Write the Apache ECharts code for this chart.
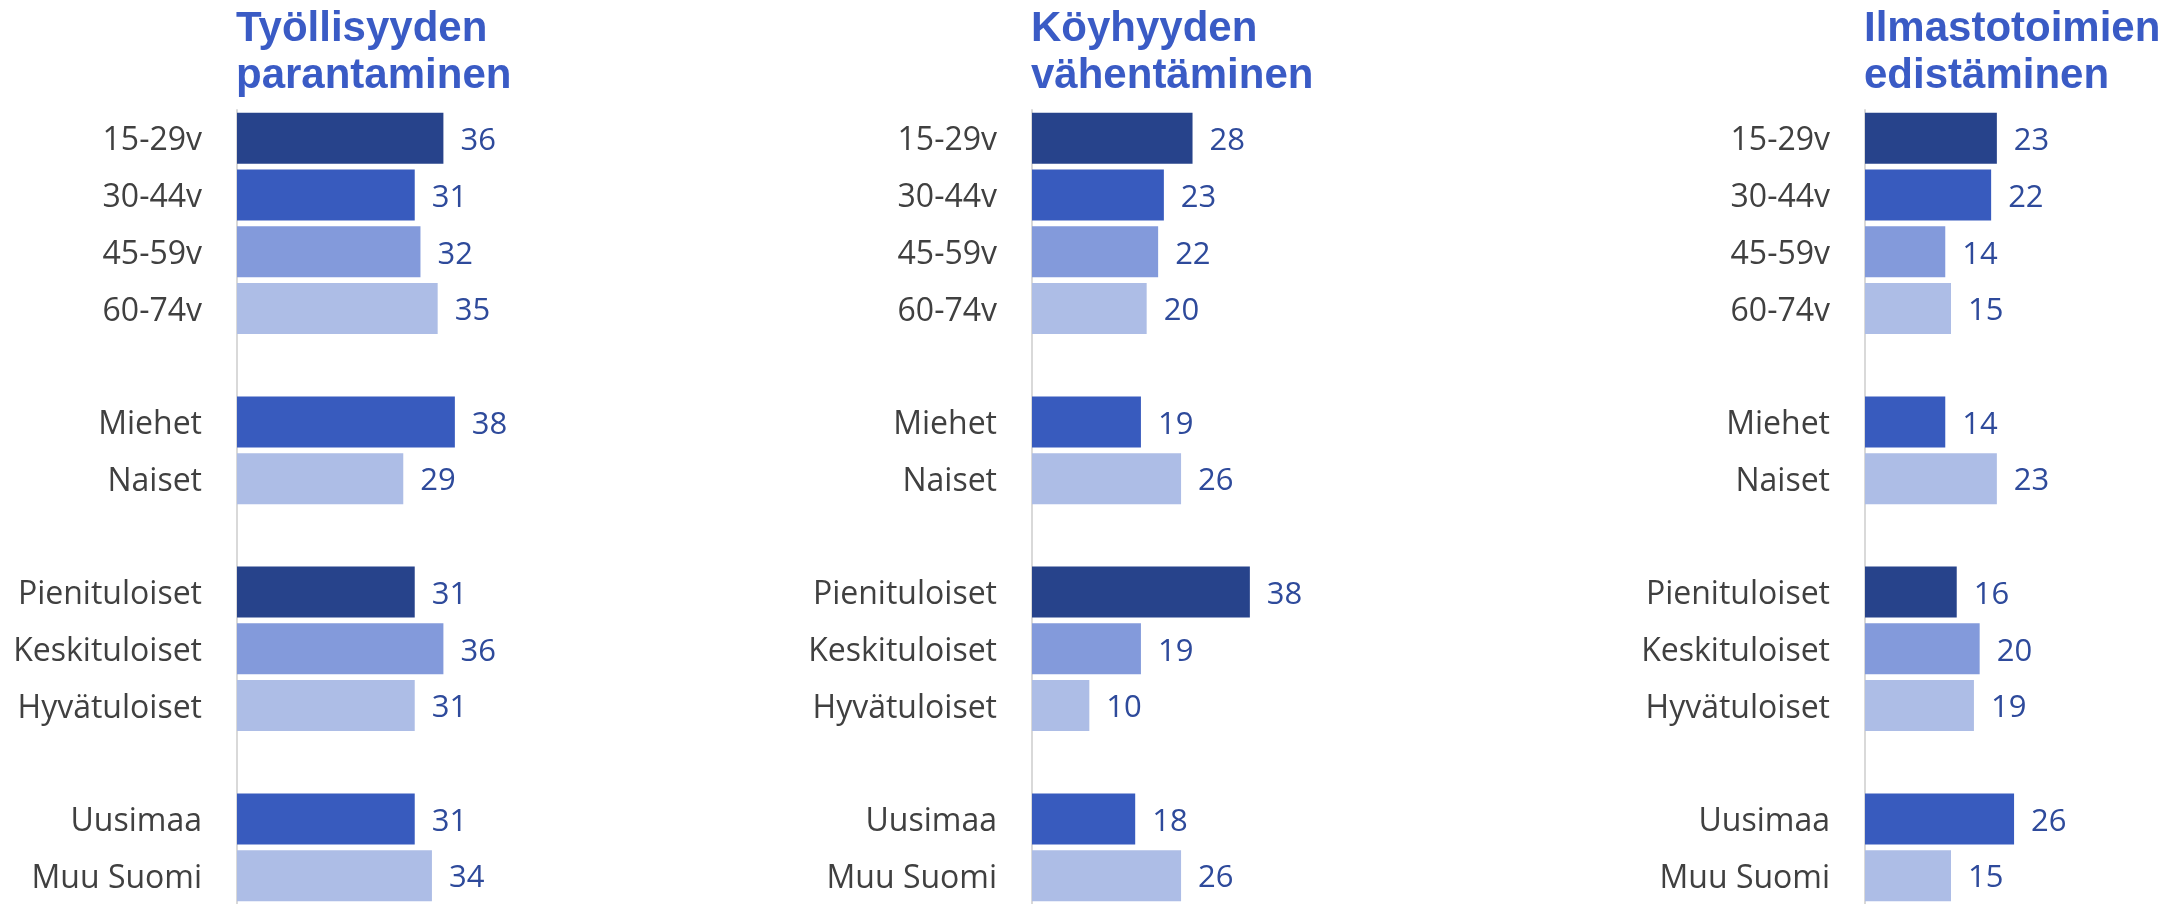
<!DOCTYPE html>
<html>
<head>
<meta charset="utf-8">
<script src="https://cdn.jsdelivr.net/npm/echarts@6/dist/echarts.min.js"></script>
<style>
  html, body { margin: 0; padding: 0; background: #fff; }
  #chart { width: 2179px; height: 904px; }
</style>
</head>
<body>
<div id="chart"></div>
<script>
// empty strings are the gaps between groups
const categories = ['15-29v', '30-44v', '45-59v', '60-74v', '', 'Miehet', 'Naiset', '',
  'Pienituloiset', 'Keskituloiset', 'Hyvätuloiset', '', 'Uusimaa', 'Muu Suomi'];

const titles = ['Työllisyyden\nparantaminen', 'Köyhyyden\nvähentäminen', 'Ilmastotoimien\nedistäminen'];

const tyollisyys = [36, 31, 32, 35, null, 38, 29, null, 31, 36, 31, null, 31, 34];
const koyhyys = [28, 23, 22, 20, null, 19, 26, null, 38, 19, 10, null, 18, 26];
const ilmasto = [23, 22, 14, 15, null, 14, 23, null, 16, 20, 19, null, 26, 15];

// shade used for each row (0 = darkest)
const shadeOfRow = [0, 1, 2, 3, 0, 1, 3, 0, 0, 2, 3, 0, 1, 3];
const shades = ['#27438b', '#385bbe', '#839adb', '#adbde6'];

const panelLeft = [237, 1032, 1865];
const allValues = [tyollisyys, koyhyys, ilmasto];

const chart = echarts.init(document.getElementById('chart'));

const option = {
  animation: false,
  title: titles.map((t, i) => ({
    text: t,
    left: panelLeft[i] - 6,
    top: 1,
    textStyle: {
      fontFamily: 'Liberation Sans',
      fontWeight: 'bold',
      fontSize: 42,
      lineHeight: 47,
      color: '#3a5bc5',
    },
  })),
  grid: panelLeft.map((l) => ({
    left: l,
    width: 258,
    top: 110,
    bottom: -4.5,
  })),
  xAxis: panelLeft.map((l, i) => ({
    type: 'value',
    gridIndex: i,
    min: 0,
    max: 45,
    show: false,
  })),
  yAxis: panelLeft.map((l, i) => ({
    type: 'category',
    gridIndex: i,
    inverse: true,
    data: categories,
    axisTick: { show: false },
    axisLine: { lineStyle: { color: '#d9d9d9', width: 2 } },
    axisLabel: {
      margin: 35,
      formatter: '{a|{value}}',
      rich: {
        a: {
          fontFamily: 'Open Sans',
          fontSize: 32,
          color: '#404040',
          padding: [6, 0, 0, 0],
        },
      },
    },
  })),
  series: allValues.map((vals, i) => ({
    type: 'bar',
    xAxisIndex: i,
    yAxisIndex: i,
    barWidth: 51,
    data: vals.map((v, j) => ({
      value: v,
      itemStyle: { color: shades[shadeOfRow[j]] },
    })),
    label: {
      show: true,
      position: 'right',
      distance: 17,
      offset: [0, 3],
      fontFamily: 'Open Sans',
      fontSize: 31,
      color: '#2e4a9b',
    },
  })),
};

chart.setOption(option);
</script>
</body>
</html>
